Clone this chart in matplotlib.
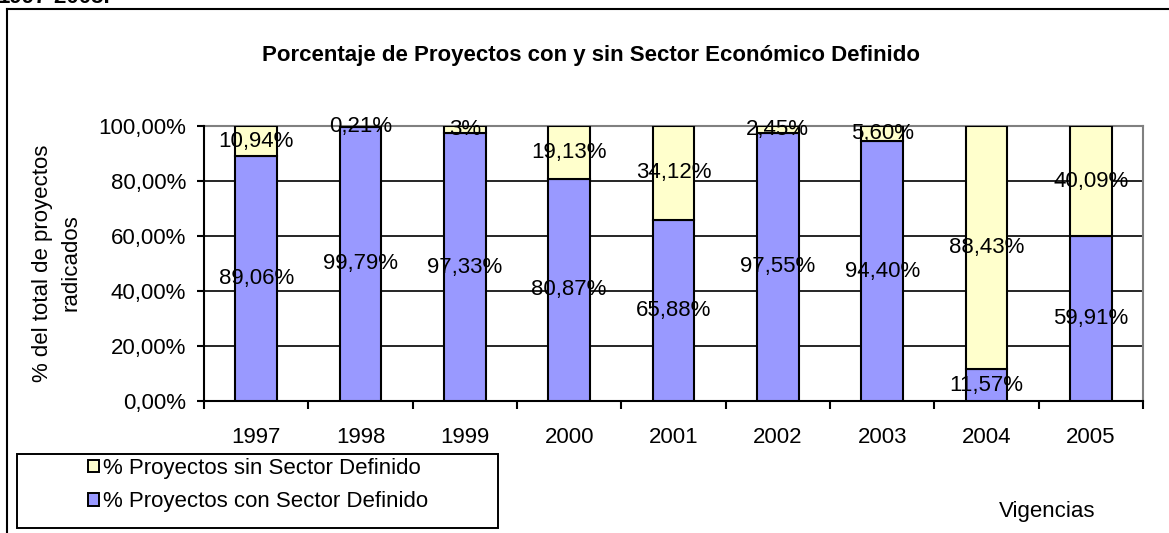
import matplotlib
matplotlib.use("Agg")
import numpy as np
import matplotlib.pyplot as plt
from matplotlib.patches import Patch, Rectangle
from matplotlib.lines import Line2D

plt.rcParams["font.family"] = ["Liberation Sans", "DejaVu Sans"]

# datos -------------------------------------------------------------------------------------
vigencias = ["1997", "1998", "1999", "2000", "2001", "2002", "2003", "2004", "2005"]
con_sector = [89.06, 99.79, 97.33, 80.87, 65.88, 97.55, 94.40, 11.57, 59.91]
sin_sector = [10.94, 0.21, 2.67, 19.13, 34.12, 2.45, 5.60, 88.43, 40.09]
etiq_con = ["89,06%", "99,79%", "97,33%", "80,87%", "65,88%", "97,55%", "94,40%", "11,57%", "59,91%"]
etiq_sin = ["10,94%", "0,21%", "3%", "19,13%", "34,12%", "2,45%", "5,60%", "88,43%", "40,09%"]
yticks = [0, 20, 40, 60, 80, 100]
ytick_labels = ["0,00%", "20,00%", "40,00%", "60,00%", "80,00%", "100,00%"]

serie_sin = "% Proyectos sin Sector Definido"
serie_con = "% Proyectos con Sector Definido"
titulo = "Porcentaje de Proyectos con y sin Sector Económico Definido"

AZUL = "#9999FF"
AMARILLO = "#FFFFCC"

W, H = 1169, 533
FS = 16

def fx(px):
    return px / W

def fy(py):
    return 1 - py / H

fig = plt.figure(figsize=(W / 100, H / 100), dpi=100, facecolor="white")
ax = fig.add_axes([fx(204), fy(401), fx(1143) - fx(204), fy(126) - fy(401)])

x = np.arange(len(vigencias))
con = np.array(con_sector)
sin = np.array(sin_sector)

ax.bar(x, con, width=0.4, color=AZUL, edgecolor="black", linewidth=1.5, zorder=3)
ax.bar(x, sin, width=0.4, bottom=con, color=AMARILLO, edgecolor="black", linewidth=1.5, zorder=3)

for i in range(len(x)):
    ax.text(x[i], con[i] / 2, etiq_con[i], ha="center", va="center", fontsize=FS, zorder=5)
    ax.text(x[i], con[i] + sin[i] / 2, etiq_sin[i], ha="center", va="center", fontsize=FS, zorder=5)

ax.set_xlim(-0.5, len(x) - 0.5)
ax.set_ylim(0, 100)
ax.set_yticks(yticks)
ax.set_yticklabels(ytick_labels, fontsize=FS)
ax.set_xticks(x)
ax.set_xticklabels(vigencias, fontsize=FS)
ax.set_xticks(np.arange(len(x) + 1) - 0.5, minor=True)
ax.tick_params(axis="x", which="major", length=0, pad=19)
ax.tick_params(axis="x", which="minor", length=6, width=1.5, direction="out")
ax.tick_params(axis="y", which="major", length=5, width=1.5, direction="out", pad=8)

ax.yaxis.grid(True, color="black", linewidth=1.2, zorder=1)
ax.set_axisbelow(True)
for lado in ["left", "bottom"]:
    ax.spines[lado].set_color("black")
    ax.spines[lado].set_linewidth(1.5)
for lado in ["top", "right"]:
    ax.spines[lado].set_color("#808080")
    ax.spines[lado].set_linewidth(1.5)
    ax.spines[lado].set_zorder(2)

# textos sueltos
fig.text(fx(591), fy(56), titulo, ha="center", va="center", fontsize=FS, fontweight="bold")
fig.text(fx(57), fy(263), "% del total de proyectos\nradicados", rotation=90,
         ha="center", va="center", multialignment="center", fontsize=FS, linespacing=1.45)
fig.text(fx(1047), fy(512), "Vigencias", ha="center", va="center", fontsize=FS)
fig.text(fx(-2), fy(3), "1997-2005.", ha="left", va="baseline", fontsize=16, fontweight="bold")

# marco exterior (solo se ven izquierda y arriba)
fig.add_artist(Line2D([fx(6.5), fx(6.5)], [fy(9), fy(540)], color="black", linewidth=1.5))
fig.add_artist(Line2D([fx(6.5), fx(1175)], [fy(9), fy(9)], color="black", linewidth=1.5))

# leyenda con caja propia
fig.add_artist(Rectangle((fx(17), fy(528)), fx(498) - fx(17), fy(454) - fy(528),
                         facecolor="white", edgecolor="black", linewidth=1.4))
manijas = [Patch(facecolor=AMARILLO, edgecolor="black", linewidth=1.4),
           Patch(facecolor=AZUL, edgecolor="black", linewidth=1.4)]
fig.legend(manijas, [serie_sin, serie_con], loc="center", bbox_to_anchor=(fx(258), fy(485)),
           frameon=False, fontsize=FS, handlelength=0.5, handleheight=0.5,
           handletextpad=0.2, labelspacing=0.55, borderpad=0)

fig.savefig("out.png", dpi=100)
